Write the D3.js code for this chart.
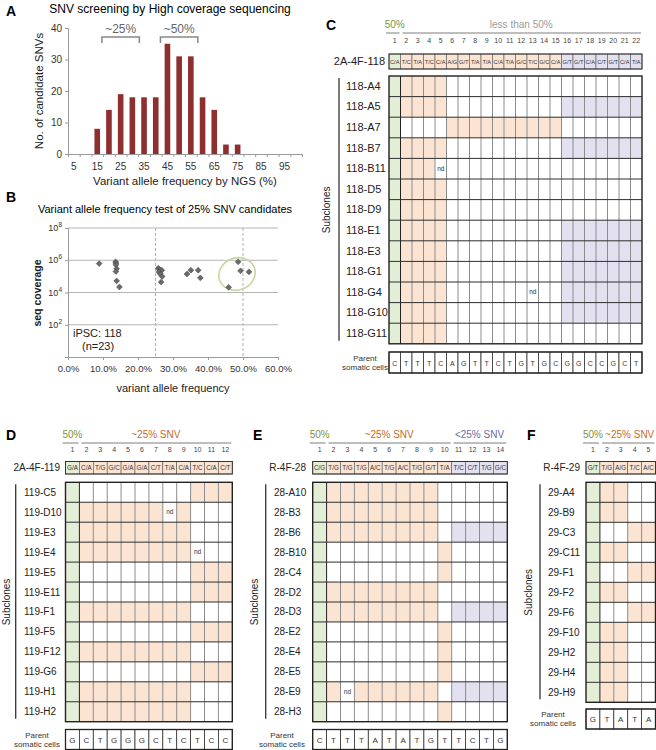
<!DOCTYPE html>
<html>
<head>
<meta charset="utf-8">
<script src="https://d3js.org/d3.v7.min.js"></script>
<style>
  body{margin:0;background:#fff;}
  svg{display:block;font-family:"Liberation Sans",Arial,sans-serif;}
</style>
</head>
<body>
<svg id="fig"></svg>
<script>
// ---- data: panel A ----------------------------------------------
var vafBins = [5,10,15,20,25,30,35,40,45,50,55,60,65,70,75,80,85,90,95,100];
var snvCounts = [0,0,8,14,19,18,18,18,35,31,31,18,14,3,3,0,0,0,0,0];
var vafTickLabels = [5,15,25,35,45,55,65,75,85,95];
var countTicks = [0,10,20,30,40];
var brackets = [{label:"~25%", lo:17, hi:33}, {label:"~50%", lo:42, hi:58}];

// ---- data: panel B ----------------------------------------------
var testVaf = [0.089,0.136,0.137,0.137,0.139,0.137,0.139,0.147,
               0.258,0.262,0.268,0.259,0.264,0.269,0.266,
               0.340,0.351,0.372,0.378,
               0.459,0.486,0.493,0.517];
var testCoverage = [6.2e5,8e5,6.6e5,5.2e5,3e5,2e5,5.2e4,2.2e4,
                    3.2e5,2.6e5,2.4e5,1.9e5,1.4e5,9.8e4,4.4e4,
                    1.4e5,2.4e5,2.4e5,8.1e4,
                    2.1e4,8e5,2.2e5,1.9e5];
var vafTicks = [0,0.1,0.2,0.3,0.4,0.5,0.6];
var coverageTicks = [1e2,1e4,1e6,1e8];
var cutLines = [0.25,0.5];

// ---- data: panel C ----------------------------------------------
var cAlleles = ["C/A","T/C","T/A","T/C","C/A","A/G","G/T","T/A","T/A","C/A","T/A",
                "G/C","T/C","G/C","C/A","G/T","G/T","C/A","C/T","G/T","C/A","T/A"];
var cHeaderCode = "g oooooooooooooo ppppppp";
var cClones = ["118-A4","118-A5","118-A7","118-B7","118-B11","118-D5","118-D9",
               "118-E1","118-E3","118-G1","118-G4","118-G10","118-G11"];
var cCodes = ["g oooo wwwwwwwwww wwwwwww",
              "g oooo wwwwwwwwww ppppppp",
              "g wwww oooooooooo wwwwwww",
              "g oooo wwwwwwwwww ppppppp",
              "g ooon wwwwwwwwww wwwwwww",
              "g oooo wwwwwwwwww wwwwwww",
              "g oooo wwwwwwwwww wwwwwww",
              "g oooo wwwwwwwwww ppppppp",
              "g oooo wwwwwwwwww ppppppp",
              "g oooo wwwwwwwwww ppppppp",
              "g oooo wwwwwwwnww ppppppp",
              "g oooo wwwwwwwwww ppppppp",
              "g oooo wwwwwwwwww wwwwwww"];
var cParent = ["C","T","T","T","C","A","G","T","T","C","T","G","T","G","C","G","G","C","C","G","C","T"];
var cGroups = [{text:"50%", from:1, to:1, kind:"g"}, {text:"less than 50%", from:2, to:22, kind:"gray"}];

// ---- data: panel D ----------------------------------------------
var dAlleles = ["G/A","C/A","T/G","G/C","G/A","G/A","C/T","T/A","C/A","T/C","C/A","C/T"];
var dHeaderCode = "g ooooooooooo";
var dClones = ["119-C5","119-D10","119-E3","119-E4","119-E5","119-E11",
               "119-F1","119-F5","119-F12","119-G6","119-H1","119-H2"];
var dCodes = ["g wwwwwwww ooo",
              "g oooooono www",
              "g oooooooo www",
              "g oooooooo nww",
              "g wwwwwwww ooo",
              "g wwwwwwww ooo",
              "g oooooooo www",
              "g wwwwwwww ooo",
              "g oooooooo www",
              "g wwwwwwww ooo",
              "g oooooooo www",
              "g oooooooo www"];
var dParent = ["G","C","T","G","G","G","C","T","C","T","C","C"];
var dGroups = [{text:"50%", from:1, to:1, kind:"g"}, {text:"~25% SNV", from:2, to:12, kind:"o"}];

// ---- data: panel E ----------------------------------------------
var eAlleles = ["C/G","T/G","T/G","T/G","A/C","T/G","A/C","T/G","G/T","T/A","T/C","C/T","T/G","G/C"];
var eHeaderCode = "g ooooooooo pppp";
var eClones = ["28-A10","28-B3","28-B6","28-B10","28-C4","28-D2",
               "28-D3","28-E2","28-E4","28-E5","28-E9","28-H3"];
var eCodes = ["g oooooooo w wwww",
              "g oooooooo w wwww",
              "g oooooooo w pppp",
              "g wwwwwwww o wwww",
              "g wwwwwwww o wwww",
              "g oooooooo w wwww",
              "g oooooooo w pppp",
              "g wwwwwwww o wwww",
              "g wwwwwwww o wwww",
              "g wwwwwwww o wwww",
              "g onoooooo w pppp",
              "g wwwwwwww o wwww"];
var eParent = ["C","T","T","T","A","T","A","T","G","T","T","C","T","G"];
var eGroups = [{text:"50%", from:1, to:1, kind:"g"}, {text:"~25% SNV", from:2, to:10, kind:"o"},
               {text:"<25% SNV", from:11, to:14, kind:"p"}];

// ---- data: panel F ----------------------------------------------
var fAlleles = ["G/T","T/G","A/G","T/C","A/C"];
var fHeaderCode = "g oooo";
var fClones = ["29-A4","29-B9","29-C3","29-C11","29-F1","29-F2",
               "29-F6","29-F10","29-H2","29-H4","29-H9"];
var fCodes = ["g oo ww","g oo ww","g ww oo","g oo ww","g ww oo","g oo ww",
              "g ww oo","g oo ww","g oo ww","g oo ww","g oo ww"];
var fParent = ["G","T","A","T","A"];
var fGroups = [{text:"50%", from:1, to:1, kind:"g"}, {text:"~25% SNV", from:2, to:5, kind:"o"}];

// ---- styles -----------------------------------------------------
var fills = {g:"#e3eed6", o:"#fce4d3", p:"#e3e0f0", w:"#ffffff", n:"#ffffff"};
var textColors = {g:"#7a9440", o:"#c66b26", p:"#6f689f", gray:"#9a9a9a"};
var barColor = "#8e2f2f";
var axisGray = "#9a9a9a";

var svg = d3.select("#fig").attr("width", 656).attr("height", 750);

function letter(t, x, y) {
  svg.append("text").attr("x", x).attr("y", y).text(t)
    .style("font-size", "14px").style("font-weight", "bold");
}

// ---- panel A ----------------------------------------------------
letter("A", 6, 16);
svg.append("text").attr("x", 170).attr("y", 13).attr("text-anchor", "middle")
  .style("font-size", "12px").text("SNV screening by High coverage sequencing");

var xA = d3.scaleBand().domain(vafBins).range([68, 302]).paddingInner(0.52).paddingOuter(0.26);
var xAv = d3.scaleLinear().domain([2.5, 102.5]).range([68, 302]);
var yA = d3.scaleLinear().domain([0, 40]).range([154, 28]);

var gA = svg.append("g");
gA.selectAll("rect.bar").data(vafBins).enter().append("rect")
  .attr("class", "bar")
  .attr("x", d => xA(d))
  .attr("width", xA.bandwidth())
  .attr("y", (d, i) => yA(snvCounts[i]))
  .attr("height", (d, i) => yA(0) - yA(snvCounts[i]))
  .style("fill", barColor);

var axA = gA.append("g").attr("transform", "translate(68,0)")
  .call(d3.axisLeft(yA).tickValues(countTicks).tickSize(3).tickPadding(3));
axA.select(".domain").attr("stroke", axisGray);
axA.selectAll(".tick line").attr("stroke", axisGray);
axA.selectAll("text").style("font-size", "10px").style("font-family", "inherit").attr("fill", "#333");

var bxA = gA.append("g").attr("transform", "translate(0,154)")
  .call(d3.axisBottom(xAv).tickValues(vafBins.map(d => d - 2.5).concat([102.5])).tickSize(3).tickFormat(""));
bxA.select(".domain").attr("stroke", axisGray);
bxA.selectAll(".tick line").attr("stroke", axisGray);
gA.selectAll("text.xl").data(vafTickLabels).enter().append("text")
  .attr("class", "xl")
  .attr("x", d => xA(d) + xA.bandwidth() / 2)
  .attr("y", 170).attr("text-anchor", "middle")
  .style("font-size", "10px").attr("fill", "#333").text(d => d);
gA.append("text").attr("x", 185).attr("y", 185).attr("text-anchor", "middle")
  .style("font-size", "11.5px").attr("fill", "#222").text("Variant allele frequency by NGS (%)");
gA.append("text").attr("transform", "translate(43,91) rotate(-90)").attr("text-anchor", "middle")
  .style("font-size", "11.5px").attr("fill", "#222").text("No. of candidate SNVs");

var br = gA.selectAll("g.br").data(brackets).enter().append("g");
br.append("path")
  .attr("d", d => "M" + xAv(d.lo) + ",43V37H" + xAv(d.hi) + "V43")
  .attr("fill", "none").attr("stroke", "#888").attr("stroke-width", 1.5);
br.append("text")
  .attr("x", d => (xAv(d.lo) + xAv(d.hi)) / 2).attr("y", 33)
  .attr("text-anchor", "middle").style("font-size", "12px").attr("fill", "#666")
  .text(d => d.label);

// ---- panel B ----------------------------------------------------
letter("B", 6, 202);
svg.append("text").attr("x", 165).attr("y", 213).attr("text-anchor", "middle")
  .style("font-size", "11px").text("Variant allele frequency test of 25% SNV candidates");

var xB = d3.scaleLinear().domain([0, 0.6]).range([68, 278]);
var yB = d3.scaleLog().domain([1, 1e8]).range([357, 228]);
var gB = svg.append("g");

gB.selectAll("line.grid").data(coverageTicks).enter().append("line")
  .attr("x1", 68).attr("x2", 278).attr("y1", d => yB(d)).attr("y2", d => yB(d))
  .attr("stroke", "#b5b5b5");
gB.selectAll("line.cut").data(cutLines).enter().append("line")
  .attr("x1", d => xB(d)).attr("x2", d => xB(d)).attr("y1", 228).attr("y2", 357)
  .attr("stroke", "#b0b0b0").attr("stroke-dasharray", "3,2");

var lyB = gB.append("g").attr("transform", "translate(68,0)")
  .call(d3.axisLeft(yB).tickValues([1].concat(coverageTicks)).tickSize(3).tickFormat(""));
lyB.select(".domain").attr("stroke", axisGray);
lyB.selectAll(".tick line").attr("stroke", axisGray);
var ytl = gB.selectAll("text.yl").data(coverageTicks).enter().append("text")
  .attr("x", 62).attr("y", d => yB(d) + 3).attr("text-anchor", "end")
  .style("font-size", "9px").attr("fill", "#333");
ytl.append("tspan").text("10");
ytl.append("tspan").attr("dy", -4).style("font-size", "6.5px").text(d => Math.round(Math.log10(d)));

var bxB = gB.append("g").attr("transform", "translate(0,357)")
  .call(d3.axisBottom(xB).tickValues(vafTicks).tickSize(3).tickPadding(5)
        .tickFormat(d => (d * 100).toFixed(1) + "%"));
bxB.select(".domain").attr("stroke", axisGray);
bxB.selectAll(".tick line").attr("stroke", axisGray);
bxB.selectAll("text").style("font-size", "9.5px").style("font-family", "inherit").attr("fill", "#333");

gB.append("text").attr("x", 173).attr("y", 392).attr("text-anchor", "middle")
  .style("font-size", "11px").attr("fill", "#222").text("variant allele frequency");
gB.append("text").attr("transform", "translate(41,293) rotate(-90)").attr("text-anchor", "middle")
  .style("font-size", "10.5px").style("font-weight", "bold").attr("fill", "#222").text("seq coverage");
gB.append("text").attr("x", 73).attr("y", 337).style("font-size", "11px").attr("fill", "#222").text("iPSC: 118");
gB.append("text").attr("x", 82).attr("y", 350).style("font-size", "11px").attr("fill", "#222").text("(n=23)");

gB.append("ellipse").attr("cx", 237).attr("cy", 274).attr("rx", 18.5).attr("ry", 16)
  .attr("transform", "rotate(-20,237,274)")
  .attr("fill", "none").attr("stroke", "#c2d99b").attr("stroke-width", 1.6);

gB.selectAll("path.pt").data(testVaf).enter().append("path")
  .attr("d", d3.symbol(d3.symbolSquare, 17))
  .attr("transform", (d, i) => "translate(" + xB(d) + "," + yB(testCoverage[i]) + ") rotate(45)")
  .attr("fill", "#6a6a6a").attr("stroke", "#444").attr("stroke-width", 0.5);

// ---- grid panels ------------------------------------------------
function drawGrid(p) {
  var n = p.alleles.length;
  var g = svg.append("g");
  var x = d3.scaleBand().domain(d3.range(1, n + 1)).range([p.x0, p.x0 + n * p.colW]);
  var y = d3.scaleBand().domain(p.clones).range([p.top, p.top + p.clones.length * p.rowH]);
  var right = p.x0 + n * p.colW, bottom = p.top + p.clones.length * p.rowH;
  var hcode = p.headerCode.replace(/ /g, "");

  letter(p.letter, p.letterX, p.groupY + 2);

  // group labels above the columns
  p.groups.forEach(function(gr, k) {
    var a = x(gr.from), b = x(gr.to) + p.colW;
    var shift = (p.groupShift && k > 0) ? p.groupShift : 0;
    g.append("text").attr("x", (a + b) / 2 + shift).attr("y", p.groupY).attr("text-anchor", "middle")
      .style("font-size", p.groupFont + "px").attr("fill", textColors[gr.kind]).text(gr.text);
    g.append("line").attr("x1", a + (gr.from === 1 ? -3 : 2)).attr("x2", b - 1)
      .attr("y1", p.groupY + 5).attr("y2", p.groupY + 5)
      .attr("stroke", "#a8a8a8").attr("stroke-width", 1.5);
  });

  // column numbers
  g.selectAll("text.num").data(d3.range(1, n + 1)).enter().append("text")
    .attr("x", d => x(d) + p.colW / 2).attr("y", p.numY).attr("text-anchor", "middle")
    .style("font-size", "7px").attr("fill", "#444").text(d => d);

  // header row with parental/variant alleles
  g.append("text").attr("x", p.nameX).attr("y", p.headerY + p.headerH / 2 + 3.5)
    .attr("text-anchor", "end").style("font-size", p.labelFont + "px").attr("fill", "#222").text(p.name);
  g.selectAll("rect.h").data(p.alleles).enter().append("rect")
    .attr("x", (d, i) => x(i + 1)).attr("y", p.headerY)
    .attr("width", p.colW).attr("height", p.headerH)
    .attr("fill", (d, i) => fills[hcode[i]]).attr("stroke", "#555").attr("stroke-width", 0.6);
  g.selectAll("text.h").data(p.alleles).enter().append("text")
    .attr("x", (d, i) => x(i + 1) + p.colW / 2).attr("y", p.headerY + p.headerH / 2 + 2)
    .attr("text-anchor", "middle").style("font-size", p.alleleFont + "px").attr("fill", "#333")
    .text(d => d);
  g.append("rect").attr("x", p.x0).attr("y", p.headerY).attr("width", right - p.x0).attr("height", p.headerH)
    .attr("fill", "none").attr("stroke", "#333").attr("stroke-width", 1);

  // subclone cells
  p.clones.forEach(function(c, r) {
    var code = p.codes[r].replace(/ /g, "");
    var row = g.append("g");
    row.selectAll("rect").data(code.split("")).enter().append("rect")
      .attr("x", (d, i) => x(i + 1)).attr("y", y(c))
      .attr("width", p.colW).attr("height", p.rowH)
      .attr("fill", d => fills[d]);
    row.selectAll("text").data(code.split("").map((d, i) => ({k: d, i: i})).filter(d => d.k === "n"))
      .enter().append("text")
      .attr("x", d => x(d.i + 1) + p.colW / 2).attr("y", y(c) + p.rowH / 2 + 2)
      .attr("text-anchor", "middle").style("font-size", "6.5px").attr("fill", "#333").text("nd");
    g.append("text").attr("x", p.labelX).attr("y", y(c) + p.rowH / 2 + 3.5)
      .style("font-size", p.labelFont + "px").attr("fill", "#222").text(c);
  });
  g.selectAll("line.v").data(d3.range(2, n + 1)).enter().append("line")
    .attr("x1", d => x(d)).attr("x2", d => x(d)).attr("y1", p.top).attr("y2", bottom)
    .attr("stroke", d => d === 2 ? "#222" : "#8c8c8c").attr("stroke-width", 1);
  g.selectAll("line.hz").data(p.clones.slice(1)).enter().append("line")
    .attr("x1", p.x0).attr("x2", right).attr("y1", d => y(d)).attr("y2", d => y(d))
    .attr("stroke", "#2e2e2e").attr("stroke-width", 1);
  g.append("rect").attr("x", p.x0).attr("y", p.top).attr("width", right - p.x0).attr("height", bottom - p.top)
    .attr("fill", "none").attr("stroke", "#222").attr("stroke-width", 1.4);

  // subclone bracket
  g.append("line").attr("x1", p.lineX).attr("x2", p.lineX).attr("y1", p.top + 2).attr("y2", bottom - 3)
    .attr("stroke", "#333").attr("stroke-width", 1.3);
  g.append("text").attr("transform", "translate(" + p.subX + "," + (p.top + bottom) / 2 + ") rotate(-90)")
    .attr("text-anchor", "middle").style("font-size", "10px").attr("fill", "#222").text("Subclones");

  // parent somatic cells row
  g.selectAll("rect.pa").data(p.parent).enter().append("rect")
    .attr("x", (d, i) => x(i + 1)).attr("y", p.parentY)
    .attr("width", p.colW).attr("height", p.parentH)
    .attr("fill", "#fff").attr("stroke", "#333").attr("stroke-width", 0.8);
  g.append("rect").attr("x", p.x0).attr("y", p.parentY).attr("width", right - p.x0).attr("height", p.parentH)
    .attr("fill", "none").attr("stroke", "#222").attr("stroke-width", 1.3);
  g.selectAll("text.pa").data(p.parent).enter().append("text")
    .attr("x", (d, i) => x(i + 1) + p.colW / 2).attr("y", p.parentY + p.parentH / 2 + 3)
    .attr("text-anchor", "middle").style("font-size", p.parentFont + "px").attr("fill", "#333").text(d => d);
  g.append("text").attr("x", p.parentTextX).attr("y", p.parentY + p.parentH / 2 - 2)
    .attr("text-anchor", "middle").style("font-size", "8px").attr("fill", "#333").text("Parent");
  g.append("text").attr("x", p.parentTextX).attr("y", p.parentY + p.parentH / 2 + 7)
    .attr("text-anchor", "middle").style("font-size", "8px").attr("fill", "#333").text("somatic cells");
}

drawGrid({letter:"C", letterX:326, name:"2A-4F-118", alleles:cAlleles, headerCode:cHeaderCode,
  clones:cClones, codes:cCodes, parent:cParent, groups:cGroups,
  x0:389, colW:11.5, top:76, rowH:20.6, headerY:54, headerH:15, parentY:352, parentH:21,
  groupY:28, numY:43, nameX:385, labelX:346, lineX:339, subX:330, parentTextX:365,
  labelFont:11, groupFont:10, alleleFont:5.6, parentFont:7});

drawGrid({letter:"D", letterX:6, name:"2A-4F-119", alleles:dAlleles, headerCode:dHeaderCode,
  clones:dClones, codes:dCodes, parent:dParent, groups:dGroups,
  x0:65.5, colW:13.9, top:482.3, rowH:19.95, headerY:461.5, headerH:12.5, parentY:729.5, parentH:20,
  groupY:438, numY:452, nameX:60, labelX:24, lineX:15.7, subX:10, parentTextX:37,
  labelFont:10, groupFont:10, alleleFont:6.3, parentFont:8});

drawGrid({letter:"E", letterX:253, name:"R-4F-28", alleles:eAlleles, headerCode:eHeaderCode,
  clones:eClones, codes:eCodes, parent:eParent, groups:eGroups,
  x0:312.7, colW:13.9, top:482.3, rowH:19.95, headerY:461.5, headerH:12.5, parentY:729.5, parentH:20,
  groupY:438, numY:452, nameX:306, labelX:274, lineX:265.7, subX:258, parentTextX:282,
  labelFont:10, groupFont:10, alleleFont:6.3, parentFont:8});

drawGrid({letter:"F", letterX:527, name:"R-4F-29", alleles:fAlleles, headerCode:fHeaderCode,
  clones:fClones, codes:fCodes, parent:fParent, groups:fGroups, groupShift:2,
  x0:586, colW:13.9, top:482.3, rowH:20, headerY:461.5, headerH:12.5, parentY:709, parentH:20,
  groupY:438, numY:452, nameX:580, labelX:548, lineX:540, subX:532, parentTextX:553,
  labelFont:10, groupFont:10, alleleFont:6.3, parentFont:8});
</script>
</body>
</html>
